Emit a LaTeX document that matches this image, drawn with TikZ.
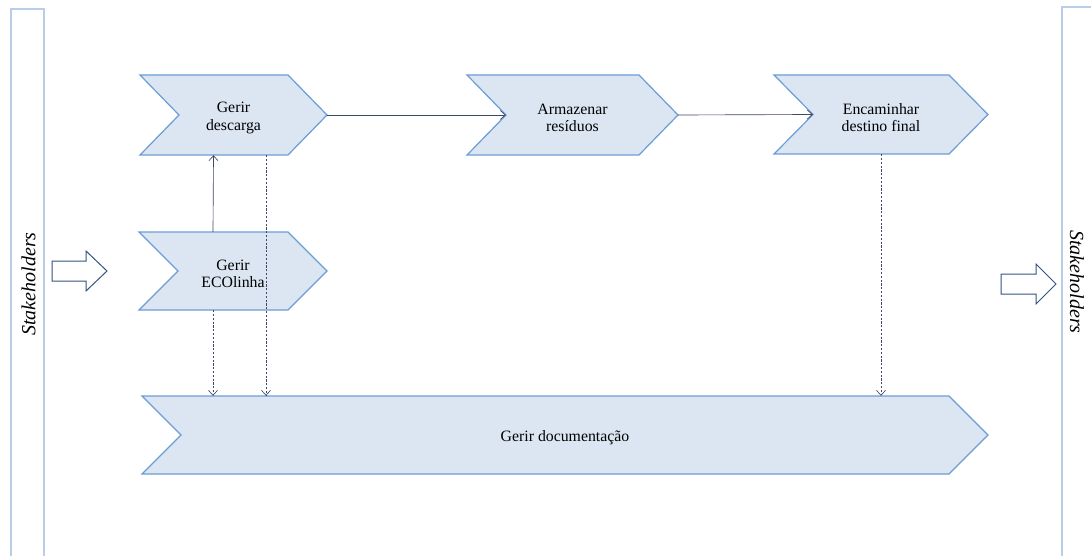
\documentclass[tikz,border=0pt]{standalone}
\usepackage{fontspec}
\setmainfont{Liberation Serif}
\usetikzlibrary{arrows.meta,calc}

\definecolor{chevfillc}{RGB}{220,230,242}
\definecolor{chevline}{RGB}{108,156,214}
\definecolor{barline}{RGB}{184,206,232}
\definecolor{linkc}{RGB}{62,72,104}
\definecolor{blockc}{RGB}{52,84,128}

\tikzset{
  chevshape/.style={fill=chevfillc, draw=chevline, line width=1.2pt, line join=miter},
  chevbox/.style={inner sep=0pt},
  chevtext/.style={inner sep=0pt, align=center, font=\fontsize{15.8}{17.5}\selectfont, text=black},
  flow/.style={draw=linkc, line width=0.65pt, -{Straight Barb[length=5pt,width=9pt,line width=0.65pt]}},
  info/.style={flow, dash pattern=on 2.2pt off 1.6pt},
  bar/.style={draw=barline, line width=1.5pt, fill=white},
  blockarrow/.style={draw=blockc, line width=1pt, fill=white, line join=miter},
  stake/.style={font=\fontsize{20}{22}\selectfont\itshape, text=black, inner sep=0pt}
}

% chevron: name, left x, right x, top y, bottom y, label
\newcommand\chevron[6]{%
  \path[chevshape] (#2,#4) -- (#3-39,#4) -- (#3,{(#4+#5)/2}) -- (#3-39,#5)
     -- (#2,#5) -- (#2+39,{(#4+#5)/2}) -- cycle;
  \node[chevbox, minimum width={#3-#2}, minimum height={#5-#4}]
     (#1) at ({(#2+#3)/2},{(#4+#5)/2}) {};
  \node[chevtext] (#1-label) at ([yshift=-3pt]#1.center) {#6};
}

\begin{document}
\begin{tikzpicture}[x=1pt,y=-1pt]
\useasboundingbox (0,0) rectangle (1091,556);

% stakeholder bands on both sides
\path[bar] (11,9) rectangle (44,580);
\path[bar] (1062,7) rectangle (1110,580);
\node[stake, rotate=90] (stakein) at (28.5,284) {Stakeholders};
\node[stake, rotate=-90] (stakeout) at (1077,282) {Stakeholders};

% input and output block arrows
\path[blockarrow] (52,261) -- (86,261) -- (86,251) -- (107,271) -- (86,291)
   -- (86,281) -- (52,281) -- cycle;
\path[blockarrow] (1001,274) -- (1036,274) -- (1036,264) -- (1056,284) -- (1036,304)
   -- (1036,294) -- (1001,294) -- cycle;

% process steps
\chevron{desc}{140}{327}{75}{155}{Gerir\\descarga}
\chevron{arm}{467}{678}{75}{155}{Armazenar\\resíduos}
\chevron{enc}{774}{988}{75}{154}{Encaminhar\\destino final}
\chevron{eco}{139}{327}{232}{310}{Gerir\\ECOlinha}
\chevron{doc}{142}{988}{396}{474}{Gerir documentação}

% main flow
\draw[flow] (desc.east) -- ([xshift=39pt]arm.west);
\draw[flow] (arm.east) -- ([xshift=39pt]enc.west);
\draw[flow] ([xshift=-20pt]eco.north) -- ([xshift=-20pt]desc.south);

% documentation links
\draw[info] ([xshift=-20pt]eco.south) coordinate (e1) -- (e1 |- doc.north);
\draw[info] ([xshift=32.5pt]desc.south) coordinate (d1) -- (d1 |- doc.north);
\draw[info] (enc.south) -- (enc.south |- doc.north);
\end{tikzpicture}
\end{document}
